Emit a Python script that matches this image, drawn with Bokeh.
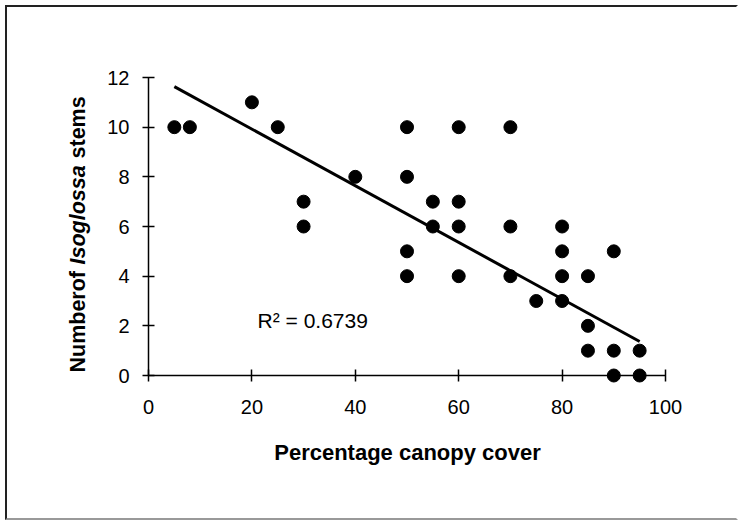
import math
from bokeh.plotting import figure
from bokeh.models import Range1d, FixedTicker
from bokeh.core.properties import value
from bokeh.embed import file_html
from bokeh.resources import INLINE

# ---- data ----
canopy_cover = [5, 8, 20, 25, 30, 30, 40, 50, 50, 50, 50, 55, 55, 60, 60, 60, 60,
                70, 70, 70, 75, 80, 80, 80, 80, 85, 85, 85, 90, 90, 90, 95, 95]
isoglossa_stems = [10, 10, 11, 10, 7, 6, 8, 10, 8, 5, 4, 7, 6, 10, 7, 6, 4,
                   10, 6, 4, 3, 6, 5, 4, 3, 4, 2, 1, 5, 1, 0, 1, 0]
trend_intercept = 12.2
trend_slope = -0.114
r_squared = 0.6739
x_ticks = [0, 20, 40, 60, 80, 100]
y_ticks = [0, 2, 4, 6, 8, 10, 12]

FONT = "Liberation Sans"

p = figure(width=729, height=511, output_backend="svg", toolbar_location=None,
           x_range=Range1d(0, 100), y_range=Range1d(0, 12),
           min_border_left=141, min_border_right=71,
           min_border_top=70, min_border_bottom=143)
p.frame_width = 517
p.frame_height = 298
p.styles = {"margin": "5px 0px 0px 5px",
            "border-top": "2px solid #222", "border-left": "2px solid #222",
            "border-bottom": "2px solid #999", "border-right": "2px solid #ffffff"}

p.grid.visible = False
p.outline_line_color = None
p.background_fill_color = "white"
p.border_fill_color = "white"

for ax, ticks in ((p.xaxis[0], x_ticks), (p.yaxis[0], y_ticks)):
    ax.ticker = FixedTicker(ticks=ticks)
    ax.minor_tick_line_color = None
    ax.major_tick_in = 6
    ax.major_tick_out = 6
    ax.axis_line_width = 1.5
    ax.major_tick_line_width = 1.5
    ax.axis_line_color = "black"
    ax.major_tick_line_color = "black"
    ax.major_label_text_font = FONT
    ax.major_label_text_font_size = "20px"
    ax.major_label_text_color = "black"
p.xaxis.major_label_standoff = 18
p.yaxis.major_label_standoff = 13

# trend line from read-off coefficients
tx = [min(canopy_cover), max(canopy_cover)]
ty = [trend_intercept + trend_slope * v for v in tx]
p.line(tx, ty, line_color="black", line_width=3)

# data points (overlay level so points on the axes are not clipped)
p.scatter(canopy_cover, isoglossa_stems, size=13, marker="circle",
          fill_color="black", line_color="black", level="overlay")

# R^2 annotation
p.text(x=[21.1], y=[2.2], text=[f"R\u00b2 = {r_squared}"], text_font=value(FONT),
       text_font_size="21px", text_baseline="middle", text_align="left",
       text_color="black", level="overlay")

# x-axis title
p.text(x=[50.1], y=[-3.1], text=["Percentage canopy cover"], text_font=value(FONT),
       text_font_size="22px", text_font_style="bold",
       text_baseline="middle", text_align="center", text_color="black",
       level="overlay")

# y-axis title in three pieces (italic genus name)
ytitle = [("Numberof", "bold", 0.12), ("Isoglossa", "bold italic", 4.47), ("stems", "bold", 8.74)]
for txt, style, ystart in ytitle:
    p.text(x=[-13.7], y=[ystart], text=[txt], angle=math.pi / 2,
           text_font=value(FONT), text_font_size="21.5px", text_font_style=style,
           text_baseline="middle", text_align="left", text_color="black",
           level="overlay")

open("out.html", "w").write(file_html(p, INLINE))
